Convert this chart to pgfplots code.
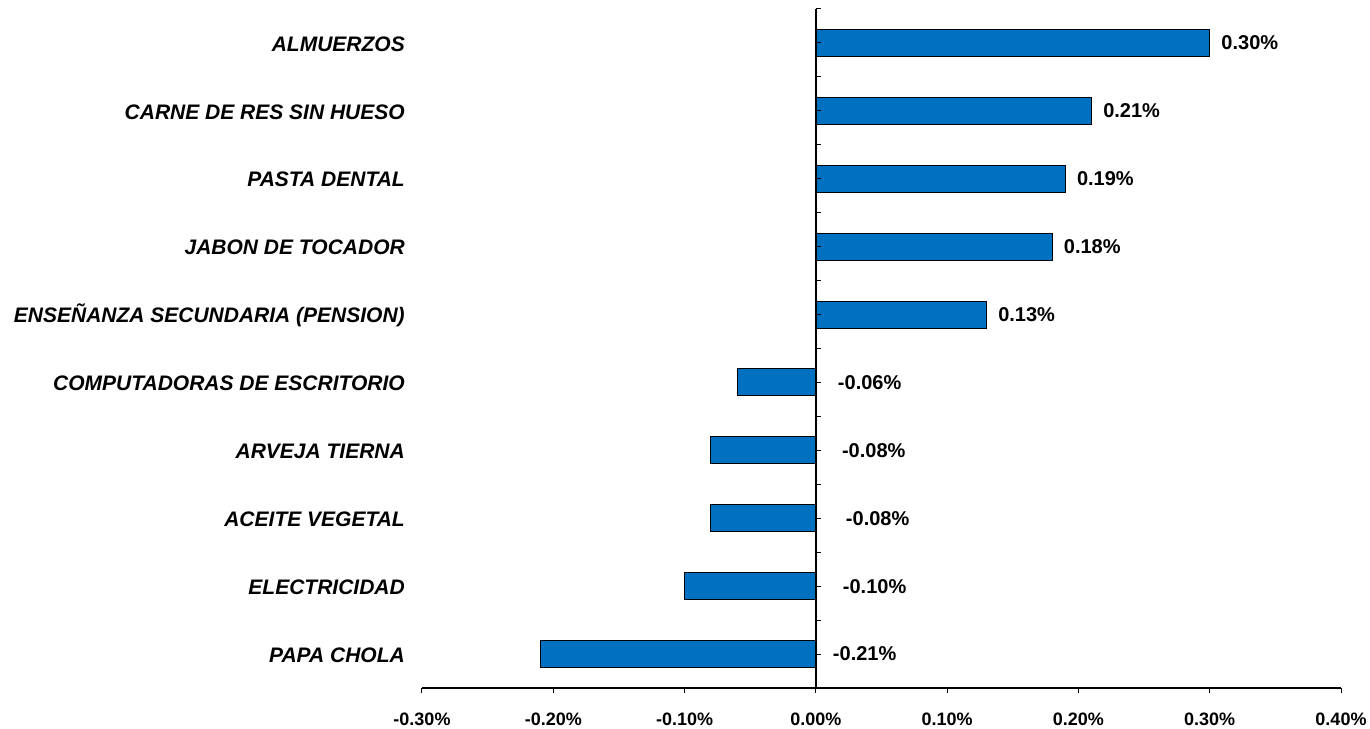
\documentclass[border=0pt]{standalone}
\usepackage{pgfplots}
\pgfplotsset{compat=1.18}
\usepackage{pgfplotstable}
\usepackage{fontspec}
\setmainfont{Liberation Sans}
\definecolor{barblue}{RGB}{0,112,192}

\pgfplotstableread{
y lx lbl
10 0.3088 0.30\%
9 0.2188 0.21\%
8 0.1988 0.19\%
7 0.1888 0.18\%
6 0.1388 0.13\%
5 0.0167 -0.06\%
4 0.0198 -0.08\%
3 0.0228 -0.08\%
2 0.0205 -0.10\%
1 0.0129 -0.21\%
}\lbltable

\begin{document}
\begin{tikzpicture}
\path[use as bounding box] (-422pt,-40pt) rectangle (948pt,688pt);
\begin{axis}[at={(0pt,0pt)}, anchor=south west, scale only axis,
  width=919pt, height=679pt,
  xmin=-0.3, xmax=0.4, ymin=0.5, ymax=10.5,
  axis x line=bottom, axis y line=left,
  x axis line style={-, line width=1.2pt},
  y axis line style={draw=none},
  xtick={-0.3,-0.2,-0.1,0,0.1,0.2,0.3,0.4},
  xticklabels={-0.30\%,-0.20\%,-0.10\%,0.00\%,0.10\%,0.20\%,0.30\%,0.40\%},
  xticklabel style={font=\fontsize{18}{20}\selectfont\bfseries, inner sep=0pt, anchor=north, yshift=-20pt},
  x tick style={black, line width=1pt},
  tick align=outside, major tick length=5pt,
  ytick={1,2,3,4,5,6,7,8,9,10},
  yticklabels={PAPA CHOLA, ELECTRICIDAD, ACEITE VEGETAL, ARVEJA TIERNA, COMPUTADORAS DE ESCRITORIO, ENSEÑANZA SECUNDARIA (PENSION), JABON DE TOCADOR, PASTA DENTAL, CARNE DE RES SIN HUESO, ALMUERZOS},
  y tick style={draw=none},
  yticklabel style={font=\fontsize{21}{24}\selectfont\bfseries\itshape, inner sep=0pt, anchor=east, xshift=-12pt, yshift=-1pt},
  clip=false,
]
\addplot[xbar, bar width=27pt, fill=barblue, draw=black, line width=1pt]
  coordinates {(0.30,10) (0.21,9) (0.19,8) (0.18,7) (0.13,6) (-0.06,5) (-0.08,4) (-0.08,3) (-0.10,2) (-0.21,1)};
\addplot[draw=none, mark=none, nodes near coords, point meta=explicit symbolic,
  every node near coord/.append style={anchor=west, inner sep=0pt, font=\fontsize{20}{22}\selectfont\bfseries}]
  table[x=lx, y=y, meta=lbl]{\lbltable};
\end{axis}
\begin{axis}[at={(393.86pt,0pt)}, anchor=south west, scale only axis,
  width=525.14pt, height=679pt,
  xmin=0, xmax=0.4, ymin=0.5, ymax=10.5,
  axis x line=none, axis y line=left,
  y axis line style={-, line width=1.6pt},
  ytick={0.5,1,...,10.5}, yticklabels={},
  tick align=inside, major tick length=5pt,
  y tick style={black, line width=1pt},
  xtick=\empty,
]
\addplot[draw=none] coordinates {(0.1,1)};
\end{axis}
\end{tikzpicture}
\end{document}
